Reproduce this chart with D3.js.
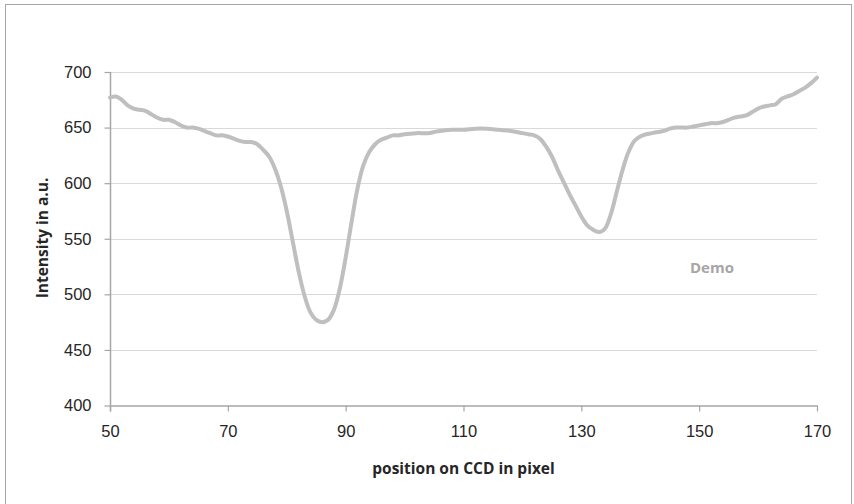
<!DOCTYPE html>
<html>
<head>
<meta charset="utf-8">
<script src="https://cdn.jsdelivr.net/npm/d3@7"></script>
<style>
  html, body { margin: 0; padding: 0; background: #fff; }
  svg { display: block; font-family: "Open Sans", "Liberation Sans", sans-serif; }
</style>
</head>
<body>
<svg id="chart" width="854" height="504"></svg>
<script>
const positions = [50,51,52,53,54,55,56,57,58,59,60,61,62,63,64,65,66,67,68,69,70,71,72,73,74,75,76,77,78,79,80,81,82,83,84,85,86,87,88,89,90,91,92,93,94,95,96,97,98,99,100,102,104,105,106,108,110,112,114,116,118,120,121,122,123,124,125,126,127,128,129,130,131,132,133,134,135,136,137,138,139,140,141,142,143,144,145,146,147,148,149,150,151,152,153,154,155,156,157,158,159,160,161,162,163,164,165,166,167,168,169,170];
const intensity = [677,678,675,670,667,666,665,662,659,657,657,655,652,650,650,649,647,645,643,643,642,640,638,637,637,635,630,624,613,597,575,548,521,499,484,477,475,477,486,505,533,565,595,616,628,635,639,641,643,643,644,645,645,646,647,648,648,649,649,648,647,645,644,643,640,633,624,612,601,590,580,570,562,558,556,559,572,592,612,628,638,642,644,645,646,647,649,650,650,650,651,652,653,654,654,655,657,659,660,661,664,667,669,670,671,676,678,680,683,686,690,695];
const xTicks = [50,70,90,110,130,150,170];
const yTicks = [400,450,500,550,600,650,700];
const seriesLabel = "Demo";
const xTitle = "position on CCD in pixel";
const yTitle = "Intensity in a.u.";

const svg = d3.select("#chart");
const m = {left: 110, right: 817, top: 72, bottom: 405.5};

// outer border
svg.append("rect").attr("x", 5.5).attr("y", 4.5).attr("width", 846).attr("height", 505)
  .attr("fill", "#fff").attr("stroke", "#a6a6a6").attr("stroke-width", 1);

const x = d3.scaleLinear().domain([50, 170]).range([m.left, m.right]);
const y = d3.scaleLinear().domain([400, 700]).range([m.bottom, m.top]);

// gridlines
svg.append("g").selectAll("line").data(yTicks.filter(d => d > 400)).join("line")
  .attr("x1", m.left).attr("x2", m.right)
  .attr("y1", d => Math.round(y(d)) + 0.5).attr("y2", d => Math.round(y(d)) + 0.5)
  .attr("stroke", "#d9d9d9").attr("stroke-width", 1);

// y axis
const yAxis = svg.append("g").attr("transform", `translate(${m.left + 0.5},0)`)
  .call(d3.axisLeft(y).tickValues(yTicks).tickSize(6).tickPadding(13).tickSizeOuter(0));
yAxis.select(".domain").remove();
yAxis.append("line").attr("x1", 0).attr("x2", 0).attr("y1", m.top).attr("y2", m.bottom + 6)
  .attr("stroke", "#a6a6a6").attr("stroke-width", 1.5);
yAxis.selectAll(".tick line").attr("stroke", "#a6a6a6").attr("stroke-width", 1.2);
yAxis.selectAll(".tick text").attr("fill", "#262626").attr("font-size", 16.5);

// x axis
const xAxis = svg.append("g").attr("transform", `translate(0,${m.bottom})`)
  .call(d3.axisBottom(x).tickValues(xTicks).tickSize(6).tickPadding(14).tickSizeOuter(0));
xAxis.select(".domain").attr("stroke", "#a6a6a6").attr("stroke-width", 1.5);
xAxis.selectAll(".tick line").attr("stroke", "#a6a6a6").attr("stroke-width", 1.2);
xAxis.selectAll(".tick text").attr("fill", "#262626").attr("font-size", 16.5);

// line
const data = positions.map((p, i) => ({p, v: intensity[i]}));
svg.append("path").datum(data)
  .attr("fill", "none").attr("stroke", "#bfbfbf").attr("stroke-width", 4)
  .attr("stroke-linejoin", "round").attr("stroke-linecap", "round")
  .attr("d", d3.line().x(d => x(d.p)).y(d => y(d.v)).curve(d3.curveCatmullRom.alpha(0.5)));

// label
svg.append("text").attr("x", 712).attr("y", 273).attr("text-anchor", "middle")
  .attr("fill", "#a6a6a6").attr("font-weight", "bold").attr("font-size", 15).text(seriesLabel);

// titles
svg.append("text").attr("x", (m.left + m.right) / 2).attr("y", 474).attr("text-anchor", "middle")
  .attr("fill", "#262626").attr("font-weight", "bold").attr("font-size", 15.5).text(xTitle);
svg.append("text").attr("transform", "translate(48,238) rotate(-90)").attr("text-anchor", "middle")
  .attr("fill", "#262626").attr("font-weight", "bold").attr("font-size", 15.5).text(yTitle);
</script>
</body>
</html>
